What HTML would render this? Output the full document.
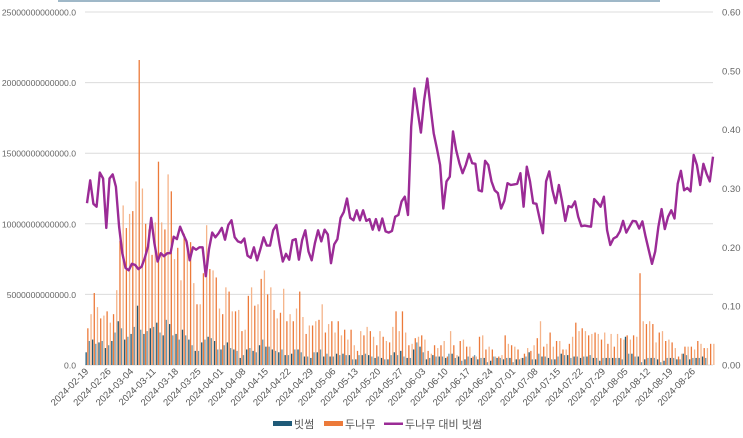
<!DOCTYPE html>
<html><head><meta charset="utf-8"><style>
html,body{margin:0;padding:0;background:#fff;}
body{width:743px;height:433px;overflow:hidden;font-family:"Liberation Sans","Noto Sans CJK KR",sans-serif;}
</style></head><body>
<svg id="chart" width="743" height="433" xmlns="http://www.w3.org/2000/svg" style="font-family:'Liberation Sans','Noto Sans CJK KR',sans-serif">
<rect x="58" y="0" width="602" height="2" fill="#9fb8c8"/>
<g id="grid"></g><g id="bars"></g><g id="line"></g><g id="axes"></g><g id="legend"></g>
</svg>
<script>
const startDate = "2024-02-19";
const tickLabels = ["2024-02-19","2024-02-26","2024-03-04","2024-03-11","2024-03-18","2024-03-25","2024-04-01","2024-04-08","2024-04-15","2024-04-22","2024-04-29","2024-05-06","2024-05-13","2024-05-20","2024-05-27","2024-06-03","2024-06-10","2024-06-17","2024-06-24","2024-07-01","2024-07-08","2024-07-15","2024-07-22","2024-07-29","2024-08-05","2024-08-12","2024-08-19","2024-08-26"];
const leftTicks = [0,5,10,15,20,25];
const rightTicks = [0,0.1,0.2,0.3,0.4,0.5,0.6];
// values in trillions
const bithumb = [0.9,1.7,1.8,1.5,1.6,1.7,1.2,1.4,1.7,2.3,3.1,2.6,1.8,2.0,2.2,2.7,4.2,2.5,2.2,2.4,2.6,2.7,3.0,2.3,2.1,3.2,2.9,2.1,2.2,1.8,2.5,2.1,1.8,1.4,1.0,1.0,1.6,1.8,2.0,1.9,1.7,1.1,1.1,1.4,1.6,1.2,1.1,1.0,0.5,0.7,1.1,1.2,1.0,0.9,1.4,1.8,1.3,1.3,1.1,1.0,0.9,1.1,0.7,0.7,0.8,1.1,1.1,0.9,0.6,0.6,0.5,0.9,0.9,1.1,0.6,0.8,0.6,0.6,0.8,0.7,0.8,0.7,0.7,0.4,0.4,0.7,0.7,0.8,0.7,0.6,0.5,
0.6,0.5,0.4,0.4,0.7,0.9,0.7,1.0,0.6,0.5,0.5,1.1,1.6,1.3,0.9,0.4,0.5,0.7,0.6,0.6,0.6,0.5,0.8,0.8,0.5,0.6,0.3,0.4,0.6,0.5,0.7,0.4,0.5,0.5,0.2,0.3,0.6,0.5,0.5,0.4,0.5,0.5,0.2,0.4,0.4,0.5,0.6,0.9,0.4,0.4,0.8,0.6,0.6,0.5,0.4,0.4,0.6,0.8,0.7,0.7,0.5,0.6,0.6,0.5,0.6,0.6,0.7,0.5,0.5,0.3,0.5,0.5,0.5,0.5,0.5,0.5,0.4,2.0,0.8,0.8,0.6,0.6,0.2,0.4,0.5,0.5,0.5,0.4,0.2,0.3,0.5,0.5,0.5,0.4,0.4,0.8,0.7,0.4,0.5,0.5,0.5,0.6,0.5];
const dunamu = [2.6,3.6,5.1,4.1,3.3,3.5,3.8,3.0,3.6,5.3,8.8,11.3,9.7,10.7,10.9,13.0,21.6,12.5,10.0,9.6,7.8,10.1,14.4,10.1,9.6,13.5,12.3,7.5,8.3,6.0,9.3,8.7,8.7,5.8,4.3,4.3,6.5,9.9,6.8,6.7,6.2,4.0,3.6,5.5,5.2,3.8,3.8,3.9,2.4,2.5,4.9,5.5,4.2,4.3,6.1,6.7,5.0,5.5,3.9,3.3,3.7,5.4,3.1,3.6,3.1,4.0,5.2,3.4,2.2,2.8,2.8,3.1,3.2,4.3,2.3,2.9,3.1,2.3,3.1,2.1,2.5,1.8,2.5,1.4,1.0,2.4,2.1,2.7,2.4,2.0,1.4,
2.4,2.0,1.7,1.6,2.7,3.8,2.4,3.8,2.3,1.4,1.5,1.9,2.0,2.1,1.8,1.0,0.8,1.4,1.2,1.4,1.7,0.6,2.4,1.4,0.7,1.7,1.8,1.3,1.3,0.6,0.6,2.0,2.1,1.1,1.3,1.1,0.6,0.6,0.7,2.1,1.5,1.4,1.3,1.1,0.5,0.8,1.2,1.0,1.4,1.9,3.1,1.3,1.5,2.3,1.3,1.7,1.7,1.1,1.1,1.5,2.0,3.0,2.4,2.6,2.4,2.1,2.2,2.3,2.2,1.8,2.3,1.5,2.2,1.3,2.2,1.9,1.8,2.1,1.8,2.1,2.0,6.5,3.1,2.9,3.1,2.9,1.6,2.3,2.4,1.7,1.8,1.6,1.2,0.6,0.8,1.3,1.3,1.3,1.1,1.7,1.5,1.2,1.2,1.5,1.5];
const ratio = [0.275,0.314,0.274,0.269,0.327,0.317,0.233,0.317,0.324,0.303,0.235,0.190,0.165,0.161,0.172,0.170,0.163,0.167,0.182,0.201,0.250,0.207,0.176,0.190,0.185,0.190,0.190,0.218,0.214,0.235,0.222,0.210,0.178,0.200,0.196,0.200,0.200,0.151,0.197,0.225,0.217,0.224,0.233,0.213,0.238,0.246,0.217,0.210,0.208,0.215,0.186,0.182,0.200,0.178,0.197,0.217,0.203,0.203,0.229,0.238,0.205,0.176,0.189,0.179,0.212,0.214,0.179,0.212,0.229,0.193,0.178,0.207,0.229,0.210,0.230,0.222,0.173,0.205,0.214,0.250,0.260,0.283,0.250,0.246,0.263,0.246,0.263,0.245,0.248,0.230,0.248,
0.229,0.249,0.227,0.225,0.228,0.252,0.255,0.278,0.286,0.255,0.405,0.470,0.431,0.395,0.450,0.487,0.439,0.394,0.368,0.340,0.266,0.312,0.320,0.397,0.365,0.343,0.326,0.340,0.359,0.343,0.342,0.297,0.295,0.347,0.340,0.312,0.297,0.292,0.266,0.279,0.309,0.306,0.307,0.308,0.326,0.269,0.337,0.312,0.275,0.274,0.249,0.224,0.312,0.329,0.297,0.275,0.306,0.278,0.245,0.270,0.268,0.278,0.252,0.236,0.237,0.236,0.235,0.282,0.276,0.269,0.286,0.229,0.204,0.215,0.218,0.227,0.245,0.225,0.235,0.245,0.244,0.232,0.244,0.218,0.195,0.172,0.193,0.235,0.265,0.231,0.252,0.263,0.249,0.308,0.330,0.297,0.301,0.295,0.357,0.340,0.306,0.342,0.325,0.312,0.354];

const NS="http://www.w3.org/2000/svg";
const X0=87, X1=713, Y0=365, Y1=12;
const N = ratio.length;
const dayMs=86400000, t0=Date.parse(startDate+"T00:00:00Z");
function xScale(i){return X0+(X1-X0)*i/(N-1);}
function yL(v){return Y0-(Y0-Y1)*v/25;}
function yR(v){return Y0-(Y0-Y1)*v/0.6;}
function mk(tag,attrs,parent){const e=document.createElementNS(NS,tag);for(const k in attrs)e.setAttribute(k,attrs[k]);parent.appendChild(e);return e;}
const grid=document.getElementById('grid'),bars=document.getElementById('bars'),lineG=document.getElementById('line'),axes=document.getElementById('axes'),legend=document.getElementById('legend');

leftTicks.forEach(v=>{
  const y=yL(v);
  const g=mk('line',{x1:85,x2:713,y1:y,y2:y,stroke:'#dcdcdc','stroke-width':1},grid);
  
  
  const t=mk('text',{x:76,y:y+3.5,'text-anchor':'end','font-size':8.6,fill:'#666'},axes);
  t.textContent=(v*1e12).toFixed(1);
  
  
});
rightTicks.forEach(v=>{
  const y=yR(v);
  const t=mk('text',{x:722,y:y+3.5,'font-size':9.5,fill:'#666'},axes);
  t.textContent=v.toFixed(2);
  
  
});
const bw=1.3;
bithumb.forEach((v,i)=>{
  const x=xScale(i);
  const r=mk('rect',{x:x-bw-0.2,y:yL(v),width:bw,height:Y0-yL(v),fill:(i%2?'#6a98b0':'#1f5a78')},bars);
  
  
});
dunamu.forEach((v,i)=>{
  const x=xScale(i);
  const r=mk('rect',{x:x+0.2,y:yL(v),width:bw,height:Y0-yL(v),fill:(i%2?'#f5b48a':'#ec7a3a')},bars);
  
  
});
const pts=ratio.map((v,i)=>xScale(i).toFixed(1)+','+yR(v).toFixed(1)).join(' ');
const pl=mk('polyline',{points:pts,fill:'none',stroke:'#9b2b96','stroke-width':2.4,'stroke-linejoin':'round'},lineG);



tickLabels.forEach(lbl=>{
  const i=Math.round((Date.parse(lbl+"T00:00:00Z")-t0)/dayMs);
  const x=xScale(i);
  const t=mk('text',{x:x+2,y:372,'text-anchor':'end','font-size':9.5,fill:'#555',transform:`rotate(-45 ${x+2} 372)`},axes);
  t.textContent=lbl;
  
  
});

const items=[{n:'빗썸',c:'#1f5a78',t:'rect',x:273},{n:'두나무',c:'#ec7a3a',t:'rect',x:324},{n:'두나무 대비 빗썸',c:'#9b2b96',t:'line',x:384}];
items.forEach(it=>{
  const g=mk('g',{},legend);
  
  
  if(it.t==='rect') mk('rect',{x:it.x,y:421,width:19,height:5,fill:it.c},g);
  else mk('rect',{x:it.x,y:422.5,width:19,height:2.5,fill:it.c},g);
  const t=mk('text',{x:it.x+21,y:428,'font-size':11,fill:'#555'},g);
  t.textContent=it.n;
});
</script>
</body></html>
